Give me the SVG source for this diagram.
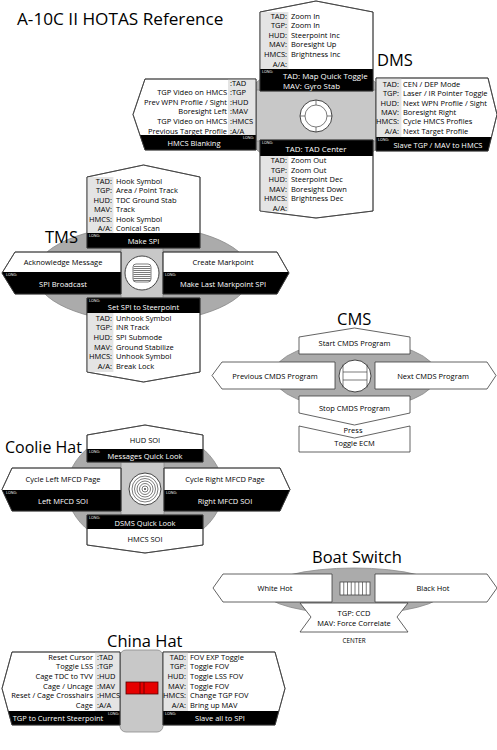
<svg xmlns="http://www.w3.org/2000/svg" width="497" height="750" viewBox="0 0 497 750">
<style>
text{font-family:"Open Sans","Noto Sans","Liberation Sans",sans-serif;fill:#000;font-size:7.5px}
.ti{font-size:17.2px}
.h{font-size:16.5px}
.bt{font-size:7.9px}
.w{fill:#fff}
.c{text-anchor:middle}
.e{text-anchor:end}
.lg{font-size:3.6px;fill:#fff}
.box{fill:#fff;stroke:#3c3c3c;stroke-width:0.8}
.ol{fill:none;stroke:#3c3c3c;stroke-width:0.8}
.band{fill:#000}
.lab{fill:#e4e4e4}
.ell{fill:#ababab;stroke:#8a8a8a;stroke-width:0.8}
.col{fill:#c8c8c8;stroke:#8a8a8a;stroke-width:0.8}
.knob{fill:#fff;stroke:#444;stroke-width:1}
.kl{fill:none;stroke:#444;stroke-width:0.7}
</style>
<text class="ti" x="17" y="25">A-10C II HOTAS Reference</text>

<g id="dms">
<text class="h" x="377" y="66">DMS</text>
<ellipse class="ell" cx="316" cy="116" rx="76" ry="54"/>
<rect class="col" x="256" y="90" width="120" height="51"/>
<g id="dms-knob">
<circle class="knob" cx="316" cy="116" r="16"/>
<circle class="kl" cx="316" cy="116" r="11"/>
<path class="kl" d="M316,100V105M316,127V132M300,116H305M327,116H332"/>
</g>
<g id="dms-up">
<polygon class="box" points="260,12 316,1 373,12 373,91 260,91"/>
<rect class="lab" x="260.4" y="12" width="28" height="57"/>
<rect class="band" x="260" y="69" width="113" height="22"/>
<polygon class="ol" points="260,12 316,1 373,12 373,91 260,91"/>
<text class="e" x="287" y="18.5">TAD:</text><text x="291" y="18.5">Zoom In</text>
<text class="e" x="287" y="28.1">TGP:</text><text x="291" y="28.1">Zoom In</text>
<text class="e" x="287" y="37.7">HUD:</text><text x="291" y="37.7">Steerpoint Inc</text>
<text class="e" x="287" y="47.3">MAV:</text><text x="291" y="47.3">Boresight Up</text>
<text class="e" x="287" y="56.9">HMCS:</text><text x="291" y="56.9">Brightness Inc</text>
<text class="e" x="287" y="66.5">A/A:</text>
<text class="lg" x="262" y="73">LONG:</text>
<text class="w bt" x="283" y="79">TAD: Map Quick Toggle</text>
<text class="w bt" x="283" y="88.5">MAV: Gyro Stab</text>
</g>
<g id="dms-left">
<polygon class="box" points="145,79 256,79 256,150 145,150 133,114.5"/>
<rect class="lab" x="228" y="79.4" width="27.6" height="55.6"/>
<polygon class="band" points="139.9,135 256,135 256,150 145,150"/>
<polygon class="ol" points="145,79 256,79 256,150 145,150 133,114.5"/>
<text x="230" y="85.5">:TAD</text>
<text class="e" x="227" y="95.1">TGP Video on HMCS</text><text x="230" y="95.1">:TGP</text>
<text class="e" x="227" y="104.7">Prev WPN Profile / Sight</text><text x="230" y="104.7">:HUD</text>
<text class="e" x="227" y="114.3">Boresight Left</text><text x="230" y="114.3">:MAV</text>
<text class="e" x="227" y="123.9">TGP Video on HMCS</text><text x="230" y="123.9">:HMCS</text>
<text class="e" x="227" y="133.5">Previous Target Profile</text><text x="230" y="133.5">:A/A</text>
<text class="lg" x="243" y="139">LONG:</text>
<text class="w c" x="194" y="145.5">HMCS Blanking</text>
</g>
<g id="dms-right">
<polygon class="box" points="376,78 488,78 497,114.5 488,151 376,151"/>
<rect class="lab" x="376.4" y="78.4" width="25" height="58.6"/>
<polygon class="band" points="376,137 491.5,137 488,151 376,151"/>
<polygon class="ol" points="376,78 488,78 497,114.5 488,151 376,151"/>
<text class="e" x="399" y="86.6">TAD:</text><text x="403" y="86.6">CEN / DEP Mode</text>
<text class="e" x="399" y="96.1">TGP:</text><text x="403" y="96.1">Laser / IR Pointer Toggle</text>
<text class="e" x="399" y="105.5">HUD:</text><text x="403" y="105.5">Next WPN Profile / Sight</text>
<text class="e" x="399" y="115">MAV:</text><text x="403" y="115">Boresight Right</text>
<text class="e" x="399" y="124.4">HMCS:</text><text x="403" y="124.4">Cycle HMCS Profiles</text>
<text class="e" x="399" y="133.9">A/A:</text><text x="403" y="133.9">Next Target Profile</text>
<text class="lg" x="378" y="141">LONG:</text>
<text class="w c" x="438" y="147.5">Slave TGP / MAV to HMCS</text>
</g>
<g id="dms-down">
<polygon class="box" points="260,140 373,140 373,211 316,218 260,211"/>
<rect class="lab" x="260.4" y="156" width="28" height="55.5"/>
<rect class="band" x="260" y="140" width="113" height="16"/>
<polygon class="ol" points="260,140 373,140 373,211 316,218 260,211"/>
<text class="lg" x="262" y="144">LONG:</text>
<text class="w c bt" x="316" y="151.5">TAD: TAD Center</text>
<text class="e" x="287" y="163.1">TAD:</text><text x="291" y="163.1">Zoom Out</text>
<text class="e" x="287" y="172.6">TGP:</text><text x="291" y="172.6">Zoom Out</text>
<text class="e" x="287" y="182.1">HUD:</text><text x="291" y="182.1">Steerpoint Dec</text>
<text class="e" x="287" y="191.6">MAV:</text><text x="291" y="191.6">Boresight Down</text>
<text class="e" x="287" y="201.1">HMCS:</text><text x="291" y="201.1">Brightness Dec</text>
<text class="e" x="287" y="210.6">A/A:</text>
</g>
</g>

<g id="tms">
<ellipse class="ell" cx="143" cy="274" rx="108" ry="48"/>
<text class="h" x="45" y="243">TMS</text>
<rect class="col" x="121" y="248" width="42" height="50"/>
<g id="tms-knob">
<circle class="knob" cx="142" cy="273" r="17"/>
<rect class="kl" x="133" y="264" width="18" height="18" rx="3"/>
<path class="kl" d="M134,266.5H150M133.5,268.5H150.5M133.5,270.5H150.5M133.5,272.5H150.5M133.5,274.5H150.5M133.5,276.5H150.5M133.5,278.5H150.5M134,280.5H150"/>
</g>
<g id="tms-up">
<polygon class="box" points="87,177 143.5,165 200,177 200,248 87,248"/>
<rect class="lab" x="87.4" y="177" width="26" height="56"/>
<rect class="band" x="87" y="233" width="113" height="15"/>
<polygon class="ol" points="87,177 143.5,165 200,177 200,248 87,248"/>
<text class="e" x="112" y="183.6">TAD:</text><text x="116" y="183.6">Hook Symbol</text>
<text class="e" x="112" y="193.1">TGP:</text><text x="116" y="193.1">Area / Point Track</text>
<text class="e" x="112" y="202.6">HUD:</text><text x="116" y="202.6">TDC Ground Stab</text>
<text class="e" x="112" y="212.1">MAV:</text><text x="116" y="212.1">Track</text>
<text class="e" x="112" y="221.6">HMCS:</text><text x="116" y="221.6">Hook Symbol</text>
<text class="e" x="112" y="231.1">A/A:</text><text x="116" y="231.1">Conical Scan</text>
<text class="lg" x="89" y="237">LONG:</text>
<text class="w c" x="143.5" y="243.5">Make SPI</text>
</g>
<g id="tms-left">
<polygon class="box" points="15,252 121,252 121,294 15,294 2,273"/>
<polygon class="band" points="2.6,272 121,272 121,294 15,294 2,273"/>
<polygon class="ol" points="15,252 121,252 121,294 15,294 2,273"/>
<text class="c" x="63" y="264.7">Acknowledge Message</text>
<text class="lg" x="6" y="276">LONG:</text>
<text class="w c" x="63" y="286.5">SPI Broadcast</text>
</g>
<g id="tms-right">
<polygon class="box" points="163,252 277,252 289,273 277,294 163,294"/>
<polygon class="band" points="163,272 288.4,272 289,273 277,294 163,294"/>
<polygon class="ol" points="163,252 277,252 289,273 277,294 163,294"/>
<text class="c" x="223" y="264.7">Create Markpoint</text>
<text class="lg" x="165" y="276">LONG:</text>
<text class="w c" x="223" y="286.5">Make Last Markpoint SPI</text>
</g>
<g id="tms-down">
<polygon class="box" points="87,298 200,298 200,372 143.5,382 87,372"/>
<rect class="lab" x="87.4" y="313" width="26" height="59"/>
<rect class="band" x="87" y="298" width="113" height="15"/>
<polygon class="ol" points="87,298 200,298 200,372 143.5,382 87,372"/>
<text class="lg" x="89" y="302">LONG:</text>
<text class="w c" x="143.5" y="309.5">Set SPI to Steerpoint</text>
<text class="e" x="112" y="320.6">TAD:</text><text x="116" y="320.6">Unhook Symbol</text>
<text class="e" x="112" y="330.3">TGP:</text><text x="116" y="330.3">INR Track</text>
<text class="e" x="112" y="340">HUD:</text><text x="116" y="340">SPI Submode</text>
<text class="e" x="112" y="349.7">MAV:</text><text x="116" y="349.7">Ground Stabilize</text>
<text class="e" x="112" y="359.4">HMCS:</text><text x="116" y="359.4">Unhook Symbol</text>
<text class="e" x="112" y="369.1">A/A:</text><text x="116" y="369.1">Break Lock</text>
</g>
</g>

<g id="cms">
<text class="h" x="337" y="325">CMS</text>
<ellipse class="ell" cx="355" cy="375" rx="82" ry="34"/>
<g id="cms-knob">
<circle class="knob" cx="355" cy="376" r="16"/>
<path class="kl" d="M343,364.5V387.5M367,364.5V387.5M343,372H367M343,380H367"/>
</g>
<g id="cms-up">
<polygon class="box" points="299,337 354.5,328 410,337 410,354 299,354"/>
<text class="c" x="354.5" y="346">Start CMDS Program</text>
</g>
<g id="cms-left">
<polygon class="box" points="222,362 335,362 335,389 222,389 212,375.5"/>
<text class="c" x="275" y="378.5">Previous CMDS Program</text>
</g>
<g id="cms-right">
<polygon class="box" points="375,362 487,362 496,375.5 487,389 375,389"/>
<text class="c" x="433" y="378.5">Next CMDS Program</text>
</g>
<g id="cms-down">
<polygon class="box" points="299,396 410,396 410,413 354.5,425 299,413"/>
<text class="c" x="354.5" y="410.5">Stop CMDS Program</text>
<text class="c" x="353" y="433">Press</text>
</g>
<g id="cms-press">
<polygon class="box" points="299,426 354.5,438 410,426 410,452 299,452"/>
<text class="c" x="354.5" y="446">Toggle ECM</text>
</g>
</g>

<g id="coolie">
<ellipse class="ell" cx="145" cy="489" rx="78" ry="60"/>
<text class="h" x="5" y="453" style="font-size:16px">Coolie Hat</text>
<rect class="col" x="121" y="462" width="43" height="53"/>
<g id="coolie-knob">
<circle class="knob" cx="145" cy="489" r="16"/>
<circle class="kl" cx="145" cy="489" r="13"/>
<circle class="kl" cx="145" cy="489" r="10.5"/>
<circle class="kl" cx="145" cy="489" r="8"/>
<circle class="kl" cx="145" cy="489" r="5.5"/>
<circle class="kl" cx="145" cy="489" r="3"/>
<circle cx="145" cy="489" r="1" fill="#444"/>
</g>
<g id="coolie-up">
<polygon class="box" points="87,435 145,425 203,435 203,462 87,462"/>
<rect class="band" x="87" y="449" width="116" height="13"/>
<polygon class="ol" points="87,435 145,425 203,435 203,462 87,462"/>
<text class="c" x="145" y="443">HUD SOI</text>
<text class="lg" x="89" y="452.5">LONG:</text>
<text class="w c" x="145" y="459">Messages Quick Look</text>
</g>
<g id="coolie-left">
<polygon class="box" points="12,468 121,468 121,511 12,511 2,489.5"/>
<polygon class="band" points="2.2,490 121,490 121,511 12,511 2,489.5"/>
<polygon class="ol" points="12,468 121,468 121,511 12,511 2,489.5"/>
<text class="c" x="63" y="481.5">Cycle Left MFCD Page</text>
<text class="lg" x="6" y="494">LONG:</text>
<text class="w c" x="63" y="503.5">Left MFCD SOI</text>
</g>
<g id="coolie-right">
<polygon class="box" points="164,468 280,468 290,489.5 280,511 164,511"/>
<polygon class="band" points="164,490 289.8,490 290,489.5 280,511 164,511"/>
<polygon class="ol" points="164,468 280,468 290,489.5 280,511 164,511"/>
<text class="c" x="225" y="481.5">Cycle Right MFCD Page</text>
<text class="lg" x="166" y="494">LONG:</text>
<text class="w c" x="225" y="503.5">Right MFCD SOI</text>
</g>
<g id="coolie-down">
<polygon class="box" points="87,515 203,515 203,545 145,553 87,545"/>
<rect class="band" x="87" y="515" width="116" height="14"/>
<polygon class="ol" points="87,515 203,515 203,545 145,553 87,545"/>
<text class="lg" x="89" y="519">LONG:</text>
<text class="w c" x="145" y="525.5">DSMS Quick Look</text>
<text class="c" x="145" y="541.5">HMCS SOI</text>
</g>
</g>

<g id="boat">
<text class="h" x="312" y="563">Boat Switch</text>
<ellipse class="ell" cx="354" cy="591" rx="90" ry="23"/>
<g id="boat-knob">
<rect x="340" y="582" width="30" height="13" fill="#fff" stroke="#444" stroke-width="0.8"/>
<path class="kl" d="M343.75,582V595M347.5,582V595M351.25,582V595M355,582V595M358.75,582V595M362.5,582V595M366.25,582V595"/>
</g>
<g id="boat-left">
<polygon class="box" points="223,574 332,574 332,602 223,602 213,588"/>
<text class="c" x="275" y="590.5">White Hot</text>
</g>
<g id="boat-right">
<polygon class="box" points="375,574 487,574 497,588 487,602 375,602"/>
<text class="c" x="433" y="590.5">Black Hot</text>
</g>
<g id="boat-center">
<polygon class="box" points="300,603 408,603 397,617 408,632 300,632 311,617"/>
<text class="c" x="354" y="615.5">TGP: CCD</text>
<text class="c" x="354" y="625.5">MAV: Force Correlate</text>
<text class="c" x="354" y="643" style="font-size:6.3px">CENTER</text>
</g>
</g>

<g id="china">
<rect class="col" x="120" y="650" width="43" height="82" rx="6"/>
<text class="h" x="107" y="647">China Hat</text>
<g id="china-knob">
<rect x="126" y="682" width="32" height="12" fill="#e60000" stroke="#500" stroke-width="0.8"/>
<path d="M140,682V694M144,682V694" stroke="#500" stroke-width="0.8"/>
</g>
<g id="china-left">
<polygon class="box" points="12,652 120,652 120,725 12,725 2,688.5"/>
<rect class="lab" x="95" y="652.4" width="24.6" height="58.6"/>
<polygon class="band" points="8.2,711 120,711 120,725 12,725"/>
<polygon class="ol" points="12,652 120,652 120,725 12,725 2,688.5"/>
<text class="e" x="93" y="659.5">Reset Cursor</text><text x="97" y="659.5">:TAD</text>
<text class="e" x="93" y="669.2">Toggle LSS</text><text x="97" y="669.2">:TGP</text>
<text class="e" x="93" y="678.9">Cage TDC to TVV</text><text x="97" y="678.9">:HUD</text>
<text class="e" x="93" y="688.6">Cage / Uncage</text><text x="97" y="688.6">:MAV</text>
<text class="e" x="93" y="698.3">Reset / Cage Crosshairs</text><text x="97" y="698.3">:HMCS</text>
<text class="e" x="93" y="708">Cage</text><text x="97" y="708">:A/A</text>
<text class="lg" x="108" y="715">LONG:</text>
<text class="w c" x="58" y="721">TGP to Current Steerpoint</text>
</g>
<g id="china-right">
<polygon class="box" points="163,652 275,652 285,688.5 275,725 163,725"/>
<rect class="lab" x="163.4" y="652.4" width="24.6" height="58.6"/>
<polygon class="band" points="163,711 278.8,711 275,725 163,725"/>
<polygon class="ol" points="163,652 275,652 285,688.5 275,725 163,725"/>
<text class="e" x="186" y="659.5">TAD:</text><text x="190" y="659.5">FOV EXP Toggle</text>
<text class="e" x="186" y="669.2">TGP:</text><text x="190" y="669.2">Toggle FOV</text>
<text class="e" x="186" y="678.9">HUD:</text><text x="190" y="678.9">Toggle LSS FOV</text>
<text class="e" x="186" y="688.6">MAV:</text><text x="190" y="688.6">Toggle FOV</text>
<text class="e" x="186" y="698.3">HMCS:</text><text x="190" y="698.3">Change TGP FOV</text>
<text class="e" x="186" y="708">A/A:</text><text x="190" y="708">Bring up MAV</text>
<text class="lg" x="165" y="715">LONG:</text>
<text class="w c" x="220" y="721">Slave all to SPI</text>
</g>
</g>
<g id="connectors"/>
</svg>
